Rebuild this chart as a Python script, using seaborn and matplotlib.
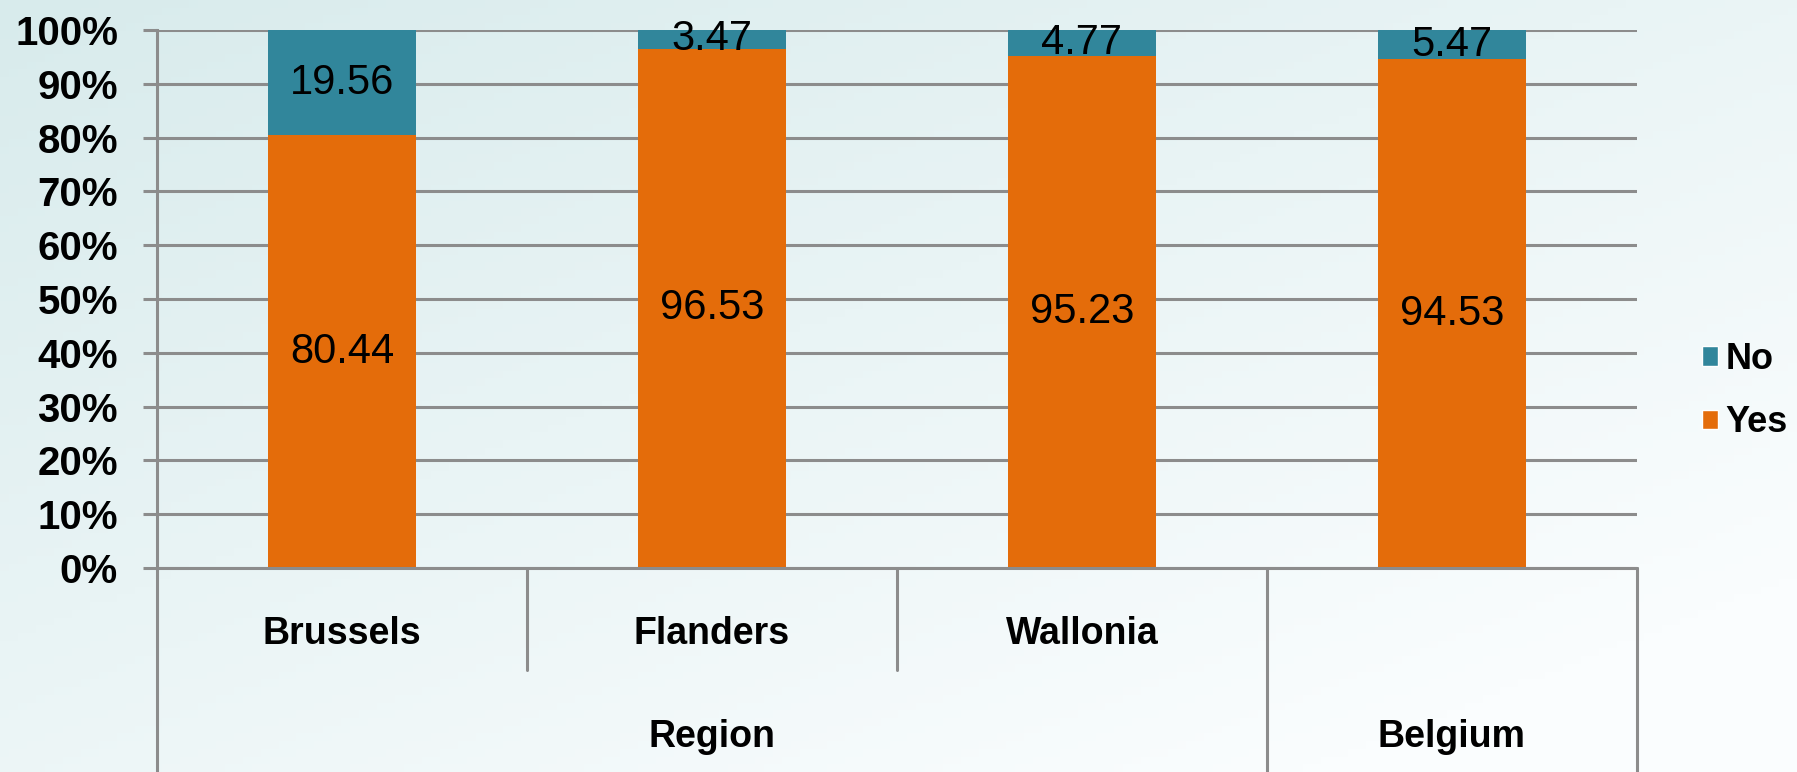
import numpy as np
import pandas as pd
import matplotlib
matplotlib.use("Agg")
import matplotlib.pyplot as plt
import seaborn as sns
from matplotlib.patches import Patch

# data
regions = ["Brussels", "Flanders", "Wallonia", "Belgium"]
groups = ["Region", "Region", "Region", "Belgium"]
yes_vals = [80.44, 96.53, 95.23, 94.53]
no_vals = [19.56, 3.47, 4.77, 5.47]
y_ticks = [0, 10, 20, 30, 40, 50, 60, 70, 80, 90, 100]

TEAL = "#31869b"
ORANGE = "#e46c0a"
GRID = "#8c8c8c"

sns.set_theme(style="white")
plt.rcParams["font.family"] = ["Liberation Sans", "DejaVu Sans"]
plt.rcParams["text.color"] = "black"
plt.rcParams["ytick.color"] = "black"

df = pd.DataFrame({"region": regions, "group": groups,
                   "yes": yes_vals, "no": no_vals})
df["total"] = df["yes"] + df["no"]

fig = plt.figure(figsize=(17.97, 7.72), dpi=100)

# background gradient (light cyan top-left -> near white bottom-right)
bg = fig.add_axes([0, 0, 1, 1], zorder=-10)
gx, gy = np.meshgrid(np.linspace(0, 1, 200), np.linspace(0, 1, 100))
t = np.clip(0.55 * gx + 0.6 * gy, 0, 1)
c0 = np.array([216, 235, 236]) / 255
c1 = np.array([250, 253, 254]) / 255
img = c0[None, None, :] * (1 - t[..., None]) + c1[None, None, :] * t[..., None]
bg.imshow(img, aspect="auto", extent=[0, 1, 0, 1], origin="upper")
bg.axis("off")

ax = fig.add_axes([157 / 1797, 1 - 568 / 772, (1637 - 157) / 1797, (568 - 30) / 772])
ax.set_facecolor("none")

# stacked bars: full height in teal, "Yes" part in orange on top
sns.barplot(data=df, x="region", y="total", color=TEAL, width=0.4,
            saturation=1, ax=ax, zorder=3, linewidth=0)
sns.barplot(data=df, x="region", y="yes", color=ORANGE, width=0.4,
            saturation=1, ax=ax, zorder=4, linewidth=0)

ax.set_xlim(-0.5, 3.5)
ax.set_ylim(0, 100)
ax.set_yticks(y_ticks)
ax.set_yticklabels([f"{v}%" for v in y_ticks], fontsize=29, fontweight="bold")
ax.yaxis.grid(True, color=GRID, lw=2.2, zorder=0)
ax.set_axisbelow(True)
ax.tick_params(axis="y", length=10, width=2.2, color=GRID, pad=18, left=True,
               labelcolor="black")
ax.set_xticks([])
ax.set_xlabel("")
ax.set_ylabel("")
for s in ["top", "right", "bottom"]:
    ax.spines[s].set_visible(False)
ax.spines["left"].set_color(GRID)
ax.spines["left"].set_linewidth(2.2)
ax.spines["left"].set_zorder(5)

# data labels in the middle of each segment
for i, row in df.iterrows():
    ax.text(i, row["yes"] / 2, f"{row['yes']:.2f}", ha="center", va="center",
            fontsize=30, zorder=6)
    ax.text(i, row["yes"] + row["no"] / 2, f"{row['no']:.2f}", ha="center",
            va="center", fontsize=30, zorder=6)

# multi-level category axis below the plot (x in data, y in axes fraction)
xt = ax.get_xaxis_transform()
h_px = 568 - 30
to_ax = lambda px: -(px - 568) / h_px
y_bot = to_ax(772)
y_mid = to_ax(670)
lkw = dict(color=GRID, lw=2.2, clip_on=False, transform=xt, zorder=5)
ax.plot([-0.5, 3.5], [0, 0], **lkw)
ax.plot([-0.5, -0.5], [0, y_bot], **lkw)
ax.plot([0.5, 0.5], [0, y_mid], **lkw)
ax.plot([1.5, 1.5], [0, y_mid], **lkw)
ax.plot([2.5, 2.5], [0, y_bot], **lkw)
ax.plot([3.5, 3.5], [0, y_bot], **lkw)

tkw = dict(ha="center", va="center", fontsize=27, fontweight="bold",
           clip_on=False, transform=xt)
for i, name in enumerate(regions):
    if groups[i] == "Region":
        ax.text(i, to_ax(634), name, **tkw)
ax.text(1, to_ax(737), "Region", **tkw)
ax.text(3, to_ax(737), "Belgium", **tkw)

# legend
handles = [Patch(facecolor=TEAL, label="No"), Patch(facecolor=ORANGE, label="Yes")]
fig.legend(handles=handles, loc="center left", bbox_to_anchor=(1702 / 1797, 1 - 391 / 772),
           frameon=False, prop={"weight": "bold", "size": 26}, borderpad=0,
           borderaxespad=0, handlelength=0.45, handleheight=0.45, handletextpad=0.2,
           labelspacing=0.78)

fig.savefig("out.png", dpi=100)
